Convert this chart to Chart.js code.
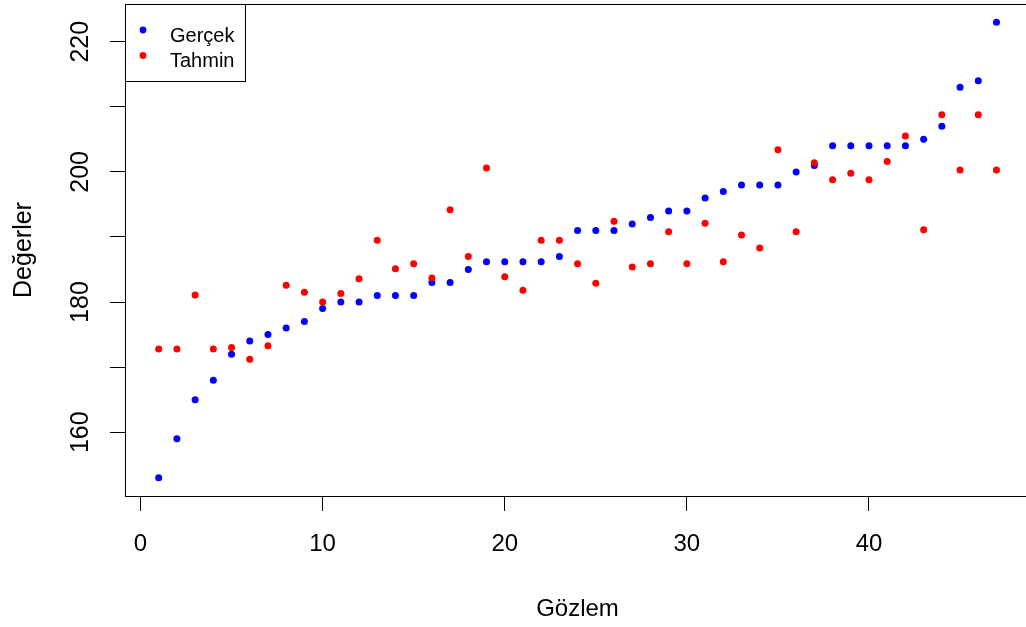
<!DOCTYPE html>
<html>
<head>
<meta charset="utf-8">
<script src="https://cdn.jsdelivr.net/npm/chart.js@4/dist/chart.umd.min.js"></script>
<style>
  body { margin: 0; background: #fff; overflow: hidden; }
  #wrap { width: 1026px; height: 627px; overflow: hidden; }
</style>
</head>
<body>
<div id="wrap"><canvas id="scatterChart" width="1040" height="627"></canvas></div>
<script>
// observation index 1..47
const gozlem = [];
for (let i = 1; i <= 47; i++) gozlem.push(i);

const gercek = [153, 159, 165, 168, 172, 174, 175, 176, 177, 179,
    180, 180, 181, 181, 181, 183, 183, 185, 186.2, 186.2,
    186.2, 186.2, 187, 191, 191, 191, 192, 193, 194, 194,
    196, 197, 198, 198, 198, 200, 201, 204, 204, 204,
    204, 204, 205, 207, 213, 214, 223];

const tahmin = [172.8, 172.8, 181.1, 172.8, 173, 171.2, 173.3, 182.6, 181.5, 180,
    181.3, 183.6, 189.5, 185.1, 185.9, 183.7, 194.2, 187, 200.6, 183.9,
    181.8, 189.5, 189.5, 185.9, 182.9, 192.4, 185.4, 185.9, 190.8, 185.9,
    192.1, 186.2, 190.3, 188.3, 203.4, 190.8, 201.4, 198.8, 199.8, 198.8,
    201.6, 205.5, 191.1, 208.8, 200.3, 208.8, 200.3];

const xTicks = [0, 10, 20, 30, 40];
const yLabelTicks = [160, 180, 200, 220];

const toPoints = (ys) => ys.map((y, i) => ({x: gozlem[i], y: y}));

const noPad = (s) => {
    s.paddingTop = 0;
    s.paddingBottom = 0;
    s.paddingLeft = 0;
    s.paddingRight = 0;
};

// box around the plot region, like base R
const boxPlugin = {
    id: 'box',
    afterDatasetsDraw(chart) {
        const a = chart.chartArea;
        const ctx = chart.ctx;
        ctx.save();
        ctx.strokeStyle = '#000';
        ctx.lineWidth = 1;
        ctx.strokeRect(a.left + 0.5, a.top + 0.5, a.right - a.left, a.bottom - a.top);
        ctx.restore();
    }
};

// legend box in the top left corner
const legendPlugin = {
    id: 'boxLegend',
    afterDraw(chart) {
        const a = chart.chartArea;
        const ctx = chart.ctx;
        ctx.save();
        ctx.fillStyle = '#fff';
        ctx.fillRect(a.left, a.top, 120, 77);
        ctx.strokeStyle = '#000';
        ctx.lineWidth = 1;
        ctx.strokeRect(a.left + 0.5, a.top + 0.5, 120, 77);
        ctx.font = '20px "Liberation Sans", Arial, sans-serif';
        ctx.textBaseline = 'alphabetic';
        ctx.textAlign = 'left';
        chart.data.datasets.forEach((ds, i) => {
            const cy = a.top + 26 + i * 25.5;
            ctx.fillStyle = ds.backgroundColor;
            ctx.beginPath();
            ctx.arc(a.left + 18, cy, 3.4, 0, Math.PI * 2);
            ctx.fill();
            ctx.fillStyle = '#000';
            ctx.fillText(ds.label, a.left + 45, cy + 11.5);
        });
        ctx.restore();
    }
};

const ctx = document.getElementById('scatterChart').getContext('2d');
const scatterChart = new Chart(ctx, {
    type: 'scatter',
    data: {
        datasets: [{
            label: 'Gerçek',
            data: toPoints(gercek),
            backgroundColor: '#0000ff',
            borderWidth: 0,
            pointRadius: 3.5,
            order: 1,
        }, {
            label: 'Tahmin',
            data: toPoints(tahmin),
            backgroundColor: '#ff0000',
            borderWidth: 0,
            pointRadius: 3.5,
            order: 0,
        }],
    },
    options: {
        responsive: false,
        animation: false,
        layout: { padding: { top: 3, right: 10, left: 0, bottom: 0 } },
        plugins: {
            legend: { display: false },
            tooltip: { enabled: false },
        },
        scales: {
            x: {
                type: 'linear',
                min: -0.85,
                max: 48.84,
                afterFit: (s) => { s.height = 131; noPad(s); },
                afterBuildTicks: (s) => { s.ticks = xTicks.map(v => ({value: v})); },
                grid: { drawOnChartArea: false, tickLength: 15, color: '#000', tickColor: '#000' },
                border: { display: true, color: '#000' },
                ticks: {
                    color: '#000',
                    padding: 19,
                    autoSkip: false,
                    maxRotation: 0,
                    font: { family: '"Liberation Sans", Arial, sans-serif', size: 24 },
                },
                title: {
                    display: true,
                    text: 'Gözlem',
                    color: '#000',
                    padding: { top: 0, bottom: 3 },
                    font: { family: '"Liberation Sans", Arial, sans-serif', size: 24 },
                },
            },
            y: {
                type: 'linear',
                min: 150.2,
                max: 225.8,
                afterFit: (s) => { s.width = 125; noPad(s); },
                afterBuildTicks: (s) => {
                    const t = [];
                    for (let v = 160; v <= 220; v += 10) t.push({value: v});
                    s.ticks = t;
                },
                grid: { drawOnChartArea: false, tickLength: 15, color: '#000', tickColor: '#000' },
                border: { display: true, color: '#000' },
                ticks: {
                    color: '#000',
                    padding: 8,
                    autoSkip: false,
                    minRotation: 90,
                    maxRotation: 90,
                    crossAlign: 'center',
                    font: { family: '"Liberation Sans", Arial, sans-serif', size: 25 },
                    callback: (v) => yLabelTicks.includes(v) ? String(v) : '',
                },
                title: {
                    display: true,
                    text: 'Değerler',
                    color: '#000',
                    padding: { top: 9, bottom: 0 },
                    font: { family: '"Liberation Sans", Arial, sans-serif', size: 25 },
                },
            },
        },
    },
    plugins: [boxPlugin, legendPlugin],
});
</script>
</body>
</html>
